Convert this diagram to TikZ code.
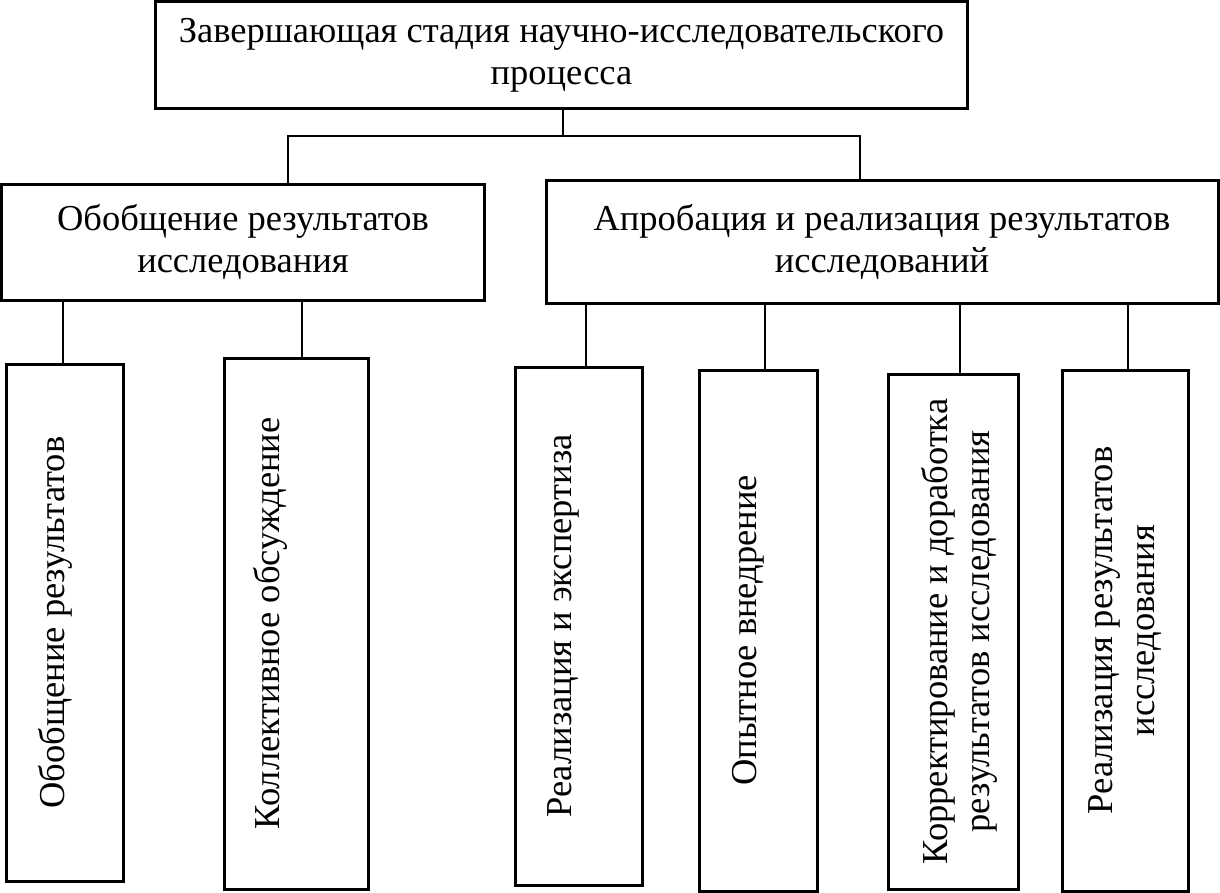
\documentclass[tikz,border=0pt]{standalone}
\usepackage{fontspec}
\setmainfont{Liberation Serif}
\begin{document}
\begin{tikzpicture}[x=0.4pt,y=-0.4pt,
    box/.style={draw,line width=1.2pt,inner sep=0pt,align=center,font=\fontsize{14.6}{16.8}\selectfont},
    txt/.style={rotate=90,align=center,inner sep=0pt,font=\fontsize{14.6}{16.8}\selectfont},
    con/.style={line width=0.9pt}]
  \useasboundingbox (0,0) rectangle (1220,893);
  % upper levels
  \node[box,minimum width=324.4pt,minimum height=42.4pt] (top) at (561.5,55) {Завершающая стадия научно-исследовательского\\процесса};
  \node[box,minimum width=192.8pt,minimum height=46.4pt] (lbox) at (243,242) {Обобщение результатов\\исследования};
  \node[box,minimum width=268.8pt,minimum height=49.2pt] (rbox) at (882,241.5) {Апробация и реализация результатов\\исследований};
  \coordinate (bus) at (563,136);
  \draw[con] (bus |- top.south) -- (bus);
  \draw[con] ([xshift=18pt]lbox.north) |- (bus) -| ([xshift=-8.8pt]rbox.north);
  % lower level, text turned up
  \foreach \i/\cx/\cy/\w/\h/\dx/\sx/\up/\txt in {
      1/65/622.5/46.4/206.8/-4/-0.8/lbox/{Обобщение результатов},
      2/296/623.5/57.6/212.4/-10.4/2.4/lbox/{Коллективное обсуждение},
      3/578.5/626/50.8/207.2/-6/3/rbox/{Реализация и экспертиза},
      4/758/630.5/47.2/208.4/-4/2.8/rbox/{Опытное внедрение},
      5/953/631.5/52/206/2.4/2.8/rbox/{Корректирование и доработка\\результатов исследования},
      6/1125/630.5/50.4/208.4/0/1.2/rbox/{Реализация результатов\\исследования}}{
    \node[box,minimum width=\w pt,minimum height=\h pt] (b\i) at (\cx,\cy) {};
    \node[txt] (t\i) at ([xshift=\dx pt]b\i.center) {\txt};
    \path ([xshift=\sx pt]b\i.north) coordinate (n\i);
    \draw[con] (n\i) -- (n\i |- \up.south);
  }
\end{tikzpicture}
\end{document}
